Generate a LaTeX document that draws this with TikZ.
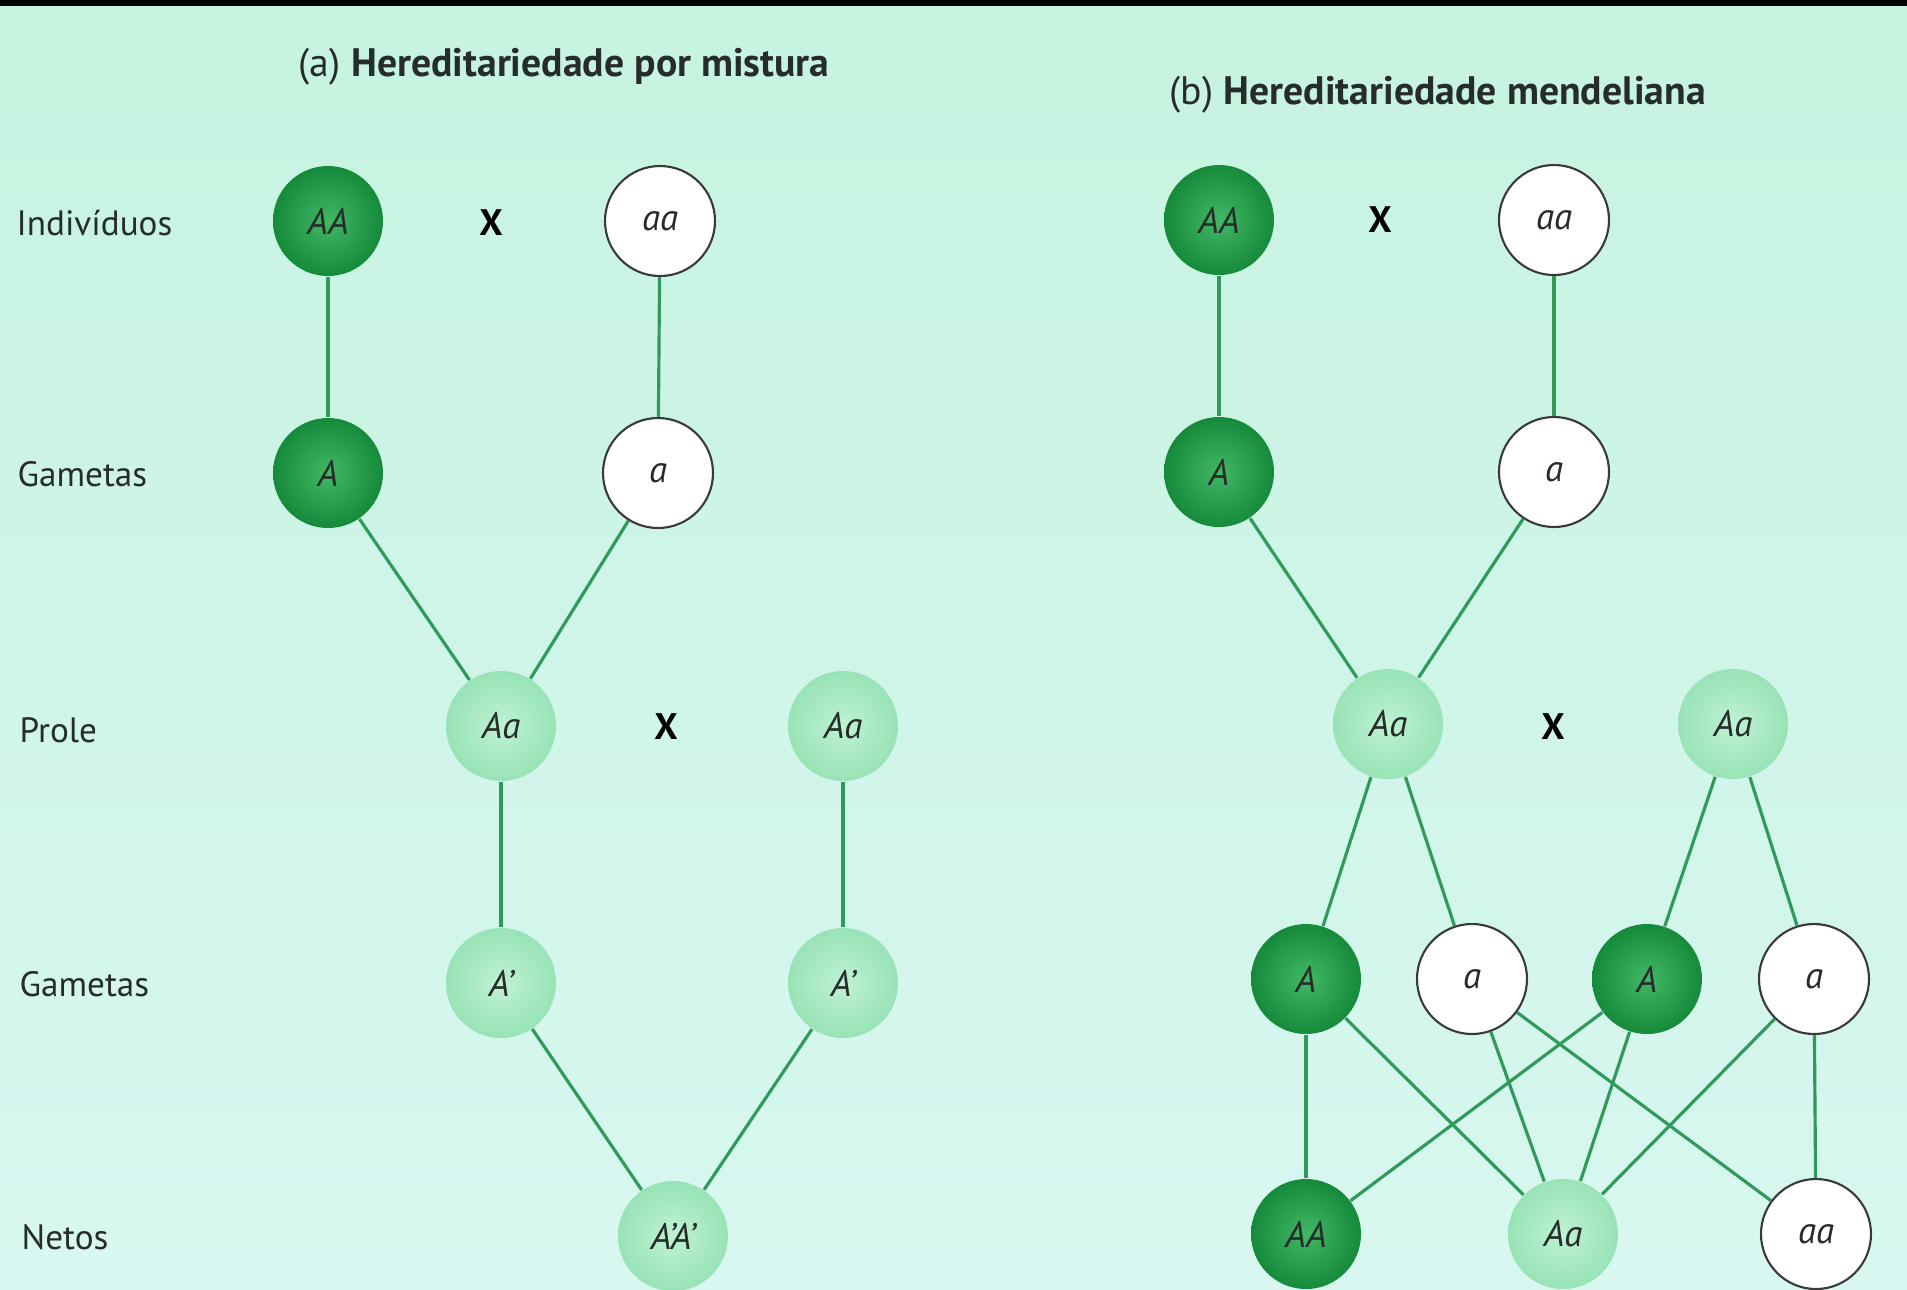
\documentclass[tikz,border=0pt]{standalone}
\usepackage{fontspec}
\setmainfont{PT Sans}
\usepackage{tikz}

\definecolor{bgtop}{HTML}{C6F3E0}
\definecolor{bgbot}{HTML}{D8F7F0}
\definecolor{darkg}{HTML}{168A3B}
\definecolor{darkgin}{HTML}{42B865}
\definecolor{lightg}{HTML}{98E3B6}
\definecolor{lightgin}{HTML}{BFF2D4}
\definecolor{linkg}{HTML}{2F9A5A}
\definecolor{ringg}{HTML}{3A3A3A}
\definecolor{txt}{HTML}{262C2A}

\begin{document}
\begin{tikzpicture}[
    font=\fontsize{10}{12}\selectfont\color{txt},
    allele/.style={circle, minimum size=1.1cm, inner sep=0pt, font=\fontsize{10.5}{12}\selectfont\itshape\color{txt}},
    dom/.style={allele, inner color=darkgin, outer color=darkg},
    het/.style={allele, inner color=lightgin, outer color=lightg},
    rec/.style={allele, draw=ringg, line width=0.6pt, fill=white},
    rowlabel/.style={anchor=west, inner sep=0pt},
    heading/.style={anchor=west, inner sep=0pt, font=\fontsize{11.3}{13}\selectfont\color{txt}},
    cross/.style={font=\fontsize{10.5}{12}\selectfont\bfseries\color{black}},
    link/.style={draw=linkg, line width=0.9pt}
]

\useasboundingbox (0,0) rectangle (19.07,-12.89);
\shade[top color=bgtop, bottom color=bgbot] (0,0) rectangle (19.07,-12.89);
\fill[black] (0,0) rectangle (19.07,-0.06);

% Titles
\node[heading] (titlea) at (2.98,-0.67) {(a) \textbf{Hereditariedade por mistura}};
\node[heading] (titleb) at (11.69,-0.95) {(b) \textbf{Hereditariedade mendeliana}};

% Rows
\node[rowlabel] (rind) at (0.16,-2.23) {Indivíduos};
\node[rowlabel] (rgam1) at (0.17,-4.74) {Gametas};
\node[rowlabel] (rprole) at (0.19,-7.30) {Prole};
\node[rowlabel] (rgam2) at (0.19,-9.84) {Gametas};
\node[rowlabel] (rnet) at (0.21,-12.37) {Netos};

% (a) mistura
\node[dom] (mAA) at (3.28,-2.21) {AA};
\node[cross] (mx1) at (4.91,-2.23) {X};
\node[rec] (maa) at (6.60,-2.21) {aa};
\node[dom] (mgA) at (3.28,-4.73) {A};
\node[rec] (mga) at (6.58,-4.73) {a};
\node[het] (mAa1) at (5.01,-7.26) {Aa};
\node[cross] (mx2) at (6.66,-7.27) {X};
\node[het] (mAa2) at (8.43,-7.26) {Aa};
\node[het] (mgA1) at (5.01,-9.83) {A'};
\node[het] (mgA2) at (8.43,-9.83) {A'};
\node[het] (mnet) at (6.73,-12.36) {A'A'};

\draw[link] (mAA) -- (mgA);
\draw[link] (maa) -- (mga);
\draw[link] (mgA) -- (mAa1);
\draw[link] (mga) -- (mAa1);
\draw[link] (mAa1) -- (mgA1);
\draw[link] (mAa2) -- (mgA2);
\draw[link] (mgA1) -- (mnet);
\draw[link] (mgA2) -- (mnet);

% (b) mendeliana
\node[dom] (dAA) at (12.19,-2.20) {AA};
\node[cross] (dx1) at (13.80,-2.20) {X};
\node[rec] (daa) at (15.54,-2.20) {aa};
\node[dom] (dgA) at (12.19,-4.72) {A};
\node[rec] (dga) at (15.54,-4.72) {a};
\node[het] (dAa1) at (13.88,-7.24) {Aa};
\node[cross] (dx2) at (15.53,-7.27) {X};
\node[het] (dAa2) at (17.33,-7.24) {Aa};
\node[dom] (dg1) at (13.06,-9.79) {A};
\node[rec] (dg2) at (14.72,-9.79) {a};
\node[dom] (dg3) at (16.47,-9.79) {A};
\node[rec] (dg4) at (18.14,-9.79) {a};
\node[dom] (dnAA) at (13.06,-12.34) {AA};
\node[het] (dnAa) at (15.63,-12.34) {Aa};
\node[rec] (dnaa) at (18.16,-12.34) {aa};

\draw[link] (dAA) -- (dgA);
\draw[link] (daa) -- (dga);
\draw[link] (dgA) -- (dAa1);
\draw[link] (dga) -- (dAa1);
\draw[link] (dAa1) -- (dg1);
\draw[link] (dAa1) -- (dg2);
\draw[link] (dAa2) -- (dg3);
\draw[link] (dAa2) -- (dg4);
\draw[link] (dg1) -- (dnAA);
\draw[link] (dg1) -- (dnAa);
\draw[link] (dg2) -- (dnAa);
\draw[link] (dg2) -- (dnaa);
\draw[link] (dg3) -- (dnAA);
\draw[link] (dg3) -- (dnAa);
\draw[link] (dg4) -- (dnAa);
\draw[link] (dg4) -- (dnaa);

\end{tikzpicture}
\end{document}
